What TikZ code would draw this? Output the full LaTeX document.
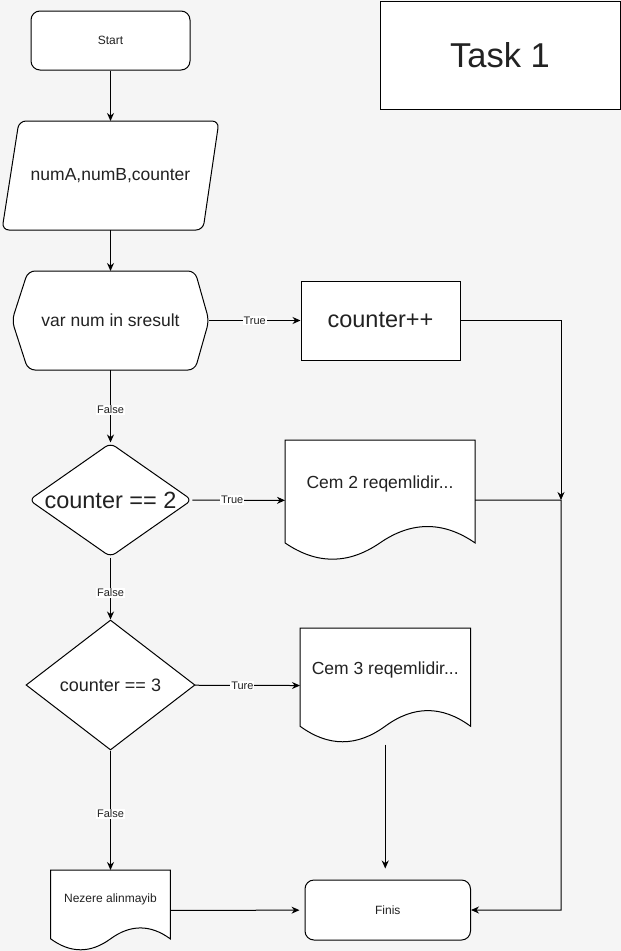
\documentclass[tikz,border=0pt]{standalone}
\usepackage{fontspec}
\setmainfont{Liberation Sans}
\usetikzlibrary{shapes.geometric, arrows.meta}
\definecolor{pagebg}{RGB}{245,245,245}
\definecolor{ink}{RGB}{34,34,34}
\pgfdeclarelayer{back}
\pgfsetlayers{back,main}
\tikzstyle{box} = [draw, fill=white, line width=1pt, inner sep=0pt, text=ink]
\tikzstyle{term} = [box, rounded corners=9pt, minimum width=159pt, minimum height=59pt, font=\fontsize{12}{14}\selectfont]
\tikzstyle{proc} = [box, minimum width=159pt, minimum height=79pt, font=\fontsize{23.5}{27}\selectfont]
\tikzstyle{dec} = [box, diamond]
\tikzstyle{bare} = [draw=none, inner sep=0pt, outer sep=0pt, text=ink]
\tikzstyle{outline} = [draw, fill=white, line width=1pt]
\tikzstyle{lbl} = [fill=white, inner sep=1pt, text=ink, font=\fontsize{11}{12}\selectfont]
\tikzstyle{line} = [line width=1pt, ->]

\begin{document}
\begin{tikzpicture}[x=1pt, y=-1pt, >={Stealth[length=8pt, width=7pt]}]
    \useasboundingbox (0,0) rectangle (621,951);
    \begin{pgfonlayer}{back}
        \fill[pagebg] (0,0) rectangle (621,951);
    \end{pgfonlayer}

    \node[term] (start) at (110.5,40.5) {Start};
    \node[bare, minimum width=217pt, minimum height=109pt, font=\fontsize{17.5}{20}\selectfont] (in) at (110.5,175.5) {numA,numB,counter};
    \node[bare, minimum width=197pt, minimum height=99pt, font=\fontsize{17.5}{20}\selectfont] (loop) at (110.5,320.5) {var num in sresult};
    \node[proc] (cnt) at (380.5,320.5) {counter++};
    \node[box, minimum width=240pt, minimum height=108pt, font=\fontsize{34.5}{40}\selectfont] (task) at (500,55) {Task 1};

    \node[dec, rounded corners=6pt, shape aspect=1.43, minimum width=163pt, minimum height=114pt, font=\fontsize{23.5}{27}\selectfont] (d2) at (110.5,500) {counter == 2};
    \node[dec, shape aspect=1.3, minimum width=169pt, minimum height=130pt, font=\fontsize{18}{21}\selectfont] (d3) at (110.5,685) {counter == 3};

    \node[bare, minimum width=190pt, minimum height=121pt, text height=12.6pt, text depth=36pt, font=\fontsize{17.5}{20}\selectfont] (cem2) at (380,500.5) {Cem 2 reqemlidir...};
    \node[bare, minimum width=170.5pt, minimum height=115.5pt, text height=12.6pt, text depth=34.7pt, font=\fontsize{17.5}{20}\selectfont] (cem3) at (385.25,685.75) {Cem 3 reqemlidir...};
    \node[bare, minimum width=119.6pt, minimum height=81pt, text height=8.6pt, text depth=24.5pt, font=\fontsize{12}{14}\selectfont] (nez) at (110.5,910.5) {Nezere alinmayib};
    \node[term, minimum width=165.5pt, minimum height=60pt] (fin) at (387.75,910) {Finis};
    \coordinate (j) at (561,500);

    % outlines under the texts
    \begin{pgfonlayer}{back}
        \draw[outline, rounded corners=7pt] (in.south west) -- ([xshift=-16pt]in.south east)
            -- (in.north east) -- ([xshift=17pt]in.north west) -- cycle;
        \draw[outline, rounded corners=7pt] (loop.west) -- ([xshift=16pt]loop.north west)
            -- ([xshift=-14pt]loop.north east) -- (loop.east) -- ([xshift=-14pt]loop.south east)
            -- ([xshift=16pt]loop.south west) -- cycle;
        \foreach \n/\w/\h in {cem2/190/121, cem3/170.5/115.5, nez/119.6/81}
        \draw[outline, shift={(\n.north west)}, x=\w pt, y=-\h pt]
            (0,0) -- (1,0) -- (1,0.85) .. controls (0.8333,0.67) and (0.6667,0.67) .. (0.5,0.85)
            .. controls (0.3333,1.03) and (0.1667,1.03) .. (0,0.85) -- cycle;
    \end{pgfonlayer}

    \draw[line] (start) -- (in);
    \draw[line] (in) -- (loop);
    \draw[line] (loop) -- node[lbl] {True} (cnt);
    \draw[line] (loop) -- node[lbl, pos=0.55] {False} (d2);
    \draw[line] (d2) -- node[lbl, pos=0.43] {True} (cem2);
    \draw[line] (d2) -- node[lbl, pos=0.57] {False} (d3);
    \draw[line] (d3) -- node[lbl, pos=0.45] {Ture} (cem3);
    \draw[line] (d3) -- node[lbl, pos=0.53] {False} (nez);
    \draw[line] (cnt) -| (j);
    \draw[line] (cem2) -- (j) |- (fin);
    \draw[line, shorten <=1pt, shorten >=11pt] (cem3) -- (cem3 |- fin.north);
    \draw[line, shorten >=5pt] (nez) -- (fin);
\end{tikzpicture}
\end{document}
